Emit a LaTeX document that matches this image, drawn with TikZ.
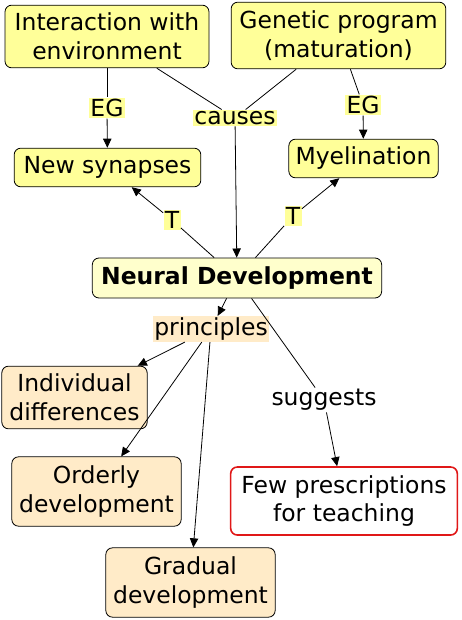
\documentclass[tikz,border=0pt]{standalone}
\usepackage{fontspec}
\setmainfont{DejaVu Sans}
\usetikzlibrary{arrows.meta}
\definecolor{amarillo}{HTML}{FFFF99}
\definecolor{crema}{HTML}{FFFFCC}
\definecolor{durazno}{HTML}{FFEBC8}
\definecolor{rojo}{HTML}{E01818}
\tikzset{
  concepto/.style={draw,rounded corners=5pt,align=center,inner sep=2pt,font=\fontsize{17.6}{21.5}\selectfont},
  enlace/.style={inner sep=1pt,align=center,font=\fontsize{17.6}{21.5}\selectfont}
}
\begin{document}
\begin{tikzpicture}[x=0.75pt,y=-0.75pt,line width=0.6pt,>={Triangle[length=2.4mm,width=2.2mm]}]
  \useasboundingbox (0,0) rectangle (461,620);
  % conceptos
  \node[concepto,fill=amarillo,minimum width=153pt,minimum height=47pt] (inter) at (107,36.5){Interaction with\\environment};
  \node[concepto,fill=amarillo,minimum width=161pt,minimum height=50pt] (genet) at (338.5,35.5){Genetic program\\(maturation)};
  \node[concepto,fill=amarillo,minimum width=140pt,minimum height=29pt] (sinap) at (107.5,167.5){New synapses};
  \node[concepto,fill=amarillo,minimum width=112pt,minimum height=29pt] (mielin) at (363.5,158.5){Myelination};
  \node[concepto,fill=crema,minimum width=217pt,minimum height=30pt,font=\fontsize{17.6}{21.5}\selectfont\bfseries] (neural) at (237,278){Neural Development};
  \node[concepto,fill=durazno,minimum width=109pt,minimum height=47pt] (indiv) at (74.5,397.5){Individual\\differences};
  \node[concepto,fill=durazno,minimum width=127pt,minimum height=52pt] (orden) at (96.5,491.5){Orderly\\development};
  \node[concepto,fill=durazno,minimum width=127pt,minimum height=52pt] (gradual) at (190.5,582.5){Gradual\\development};
  \node[concepto,draw=rojo,line width=1.2pt,fill=white,minimum width=170pt,minimum height=51pt] (pocas) at (344,501){Few prescriptions\\for teaching};
  % etiquetas de enlace
  \node[enlace,fill=amarillo] (egi) at (107,108){EG};
  \node[enlace,fill=amarillo] (causa) at (235,118){causes};
  \node[enlace,fill=amarillo] (egd) at (363,105){EG};
  \node[enlace,fill=amarillo] (ti) at (172,220){T};
  \node[enlace,fill=amarillo] (td) at (293,216){T};
  \node[enlace,fill=durazno] (princ) at (211,329){principles};
  \node[enlace] (sugiere) at (324,400){suggests};
  % enlaces
  \draw (inter)--(egi); \draw[->] (egi)--(sinap);
  \draw (genet)--(egd); \draw[->] (egd)--(mielin);
  \draw (inter)--(causa); \draw (genet)--(causa); \draw[->] (causa)--(neural);
  \draw (neural)--(ti); \draw[->] (ti)--(sinap);
  \draw (neural)--(td); \draw[->] (td)--(mielin);
  \draw[->] (neural)--(princ);
  \foreach \c in {indiv,orden,gradual} \draw[->] (princ)--(\c);
  \draw (neural)--(sugiere); \draw[->] (sugiere)--(pocas);
\end{tikzpicture}
\end{document}
